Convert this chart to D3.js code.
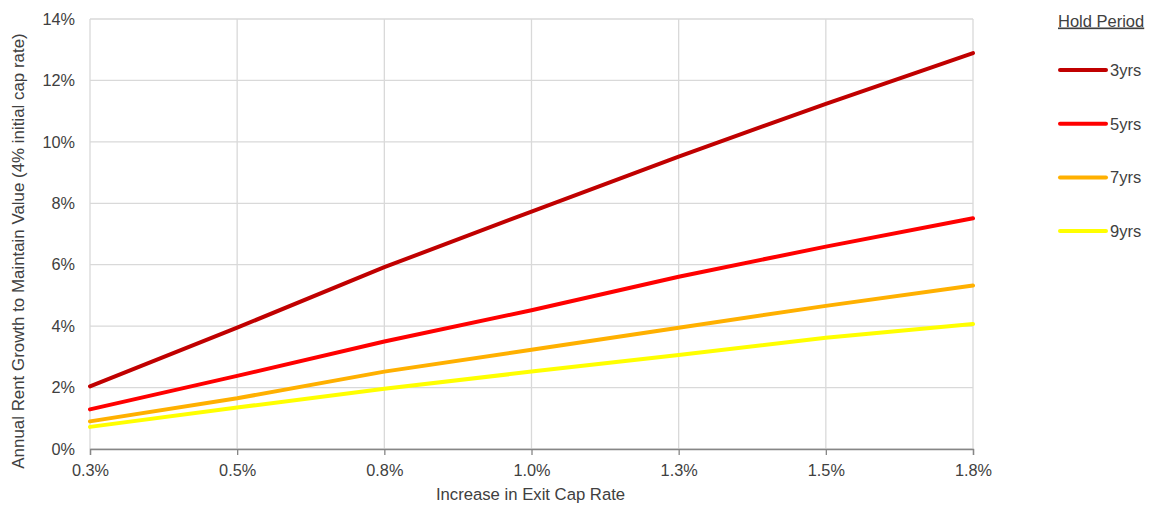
<!DOCTYPE html>
<html><head><meta charset="utf-8">
<script src="https://cdn.jsdelivr.net/npm/d3@7"></script>
<style>
body{margin:0;background:#fff;}
text{font-family:"Liberation Sans",Arial,sans-serif;fill:#404040;}
</style></head>
<body><svg id="c" width="1149" height="507"></svg>
<script>
const categories = ["0.3%","0.5%","0.8%","1.0%","1.3%","1.5%","1.8%"];
const seriesNames = ["3yrs","5yrs","7yrs","9yrs"];
const seriesColors = ["#C00000","#FF0000","#FFB000","#FFFF00"];
const s3 = [2.04, 3.95, 5.92, 7.73, 9.52, 11.24, 12.89];
const s5 = [1.29, 2.38, 3.50, 4.52, 5.61, 6.59, 7.51];
const s7 = [0.90, 1.65, 2.52, 3.23, 3.95, 4.66, 5.32];
const s9 = [0.72, 1.35, 1.96, 2.52, 3.06, 3.62, 4.07];
const yTicks = [0,2,4,6,8,10,12,14];
const seriesValues = [s3,s5,s7,s9];

const FS = 16.3;
const svg = d3.select("#c");
const L=90, R=973, T=19, B=449;
const x = d3.scalePoint().domain(categories).range([L,R]);
const y = d3.scaleLinear().domain([0,14]).range([B,T]);

// grid
svg.append("g").selectAll("line").data(yTicks).join("line")
  .attr("x1",L).attr("x2",R).attr("y1",d=>y(d)).attr("y2",d=>y(d))
  .attr("stroke","#d9d9d9").attr("stroke-width",1.3);
svg.append("g").selectAll("line").data(categories).join("line")
  .attr("x1",d=>x(d)).attr("x2",d=>x(d)).attr("y1",T).attr("y2",B)
  .attr("stroke","#d9d9d9").attr("stroke-width",1.3);

// x axis
const xa = svg.append("g").attr("transform",`translate(0,${B})`)
  .call(d3.axisBottom(x).tickSize(6).tickPadding(9));
xa.select(".domain").attr("stroke","#868686").attr("stroke-width",1.3);
xa.selectAll(".tick line").attr("stroke","#868686").attr("stroke-width",1.3);
xa.selectAll("text").attr("font-size",FS).attr("fill","#404040")
  .style("font-family","'Liberation Sans',Arial,sans-serif");

// y axis
const ya = svg.append("g").attr("transform",`translate(${L},0)`)
  .call(d3.axisLeft(y).tickValues(yTicks).tickFormat(d=>d+"%").tickSize(0).tickPadding(15));
ya.select(".domain").remove();
ya.selectAll("text").attr("font-size",FS).attr("fill","#404040")
  .style("font-family","'Liberation Sans',Arial,sans-serif");

// lines
const line = d3.line().x((d,i)=>x(categories[i])).y(d=>y(d));
seriesValues.forEach((vals,k)=>{
  svg.append("path").datum(vals).attr("d",line).attr("fill","none")
    .attr("stroke",seriesColors[k]).attr("stroke-width",4).attr("stroke-linecap","round");
});

// titles
svg.append("text").attr("x",(L+R)/2-1).attr("y",500).attr("text-anchor","middle")
  .attr("font-size",16.7).text("Increase in Exit Cap Rate");
svg.append("text").attr("transform",`translate(24,${251}) rotate(-90)`)
  .attr("text-anchor","middle").attr("font-size",16.9)
  .text("Annual Rent Growth to Maintain Value (4% initial cap rate)");

// legend
svg.append("text").attr("x",1058).attr("y",26.5).attr("font-size",16.5)
  .attr("text-decoration","underline").text("Hold Period");
const lg = svg.append("g").selectAll("g").data(seriesNames).join("g")
  .attr("transform",(d,i)=>`translate(0,${70+i*53.7})`);
lg.append("line").attr("x1",1060).attr("x2",1106).attr("y1",0).attr("y2",0)
  .attr("stroke",(d,i)=>seriesColors[i]).attr("stroke-width",4).attr("stroke-linecap","round");
lg.append("text").attr("x",1110).attr("y",6).attr("font-size",16.5).text(d=>d);
</script></body></html>
